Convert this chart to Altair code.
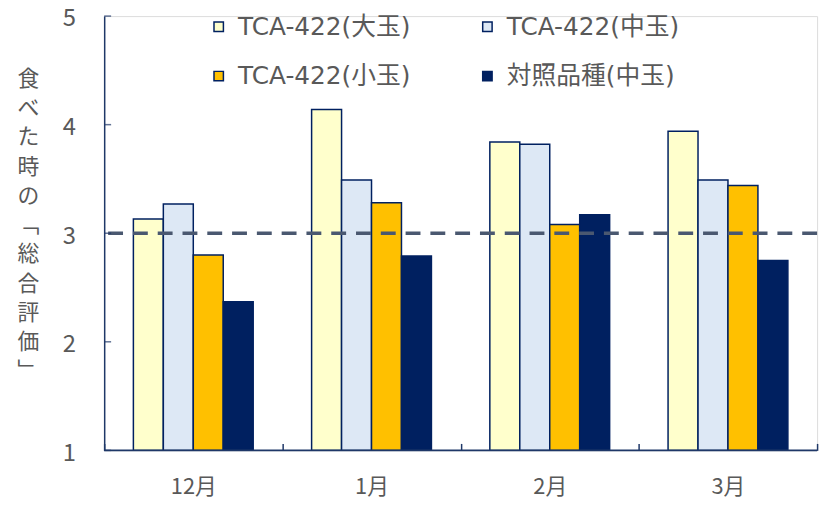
import altair as alt
import pandas as pd

months = ["12月", "1月", "2月", "3月"]
series = ["TCA-422(大玉)", "TCA-422(中玉)", "TCA-422(小玉)", "対照品種(中玉)"]
vals_large = [3.13, 4.14, 3.84, 3.94]
vals_medium = [3.27, 3.49, 3.82, 3.49]
vals_small = [2.80, 3.28, 3.08, 3.44]
vals_ctrl = [2.37, 2.79, 3.17, 2.75]
colors = ["#FFFFCC", "#DDE8F5", "#FFC000", "#002060"]
ref_value = [3]
y_ticks = [1, 2, 3, 4, 5]
y_title = ["食", "べ", "た", "時", "の", "﹁", "総", "合", "評", "価", "﹂"]

rows = []
for s, vals in zip(series, [vals_large, vals_medium, vals_small, vals_ctrl]):
    for m, v in zip(months, vals):
        rows.append({"month": m, "series": s, "value": v})
df = pd.DataFrame(rows)

W, H = 719, 438
NAVY = "#002060"
AX = "#1F3868"
TXT = "#595959"
FONT = "Noto Sans CJK JP"
LFONT = "DejaVu Sans, Noto Sans CJK JP"

bars = alt.Chart(df).mark_bar(stroke=NAVY, strokeWidth=1.5).encode(
    x=alt.X("month:N", sort=months,
            scale=alt.Scale(paddingInner=0, paddingOuter=0),
            axis=alt.Axis(title=None, domain=False, ticks=True, tickBand="extent",
                          tickSize=7, tickWidth=1.5, tickColor=AX, offset=-7,
                          labelPadding=27, labelFontSize=22, labelColor=TXT,
                          labelFont=FONT, labelAngle=0)),
    xOffset=alt.XOffset("series:N", sort=series,
                        scale=alt.Scale(paddingInner=0, paddingOuter=0.975)),
    y=alt.Y("value:Q", scale=alt.Scale(domain=[1, 5], nice=False, zero=False),
            axis=alt.Axis(values=y_ticks, format="d", title=y_title, titleAngle=0,
                          titleFontSize=22, titleLineHeight=29.5, titleColor=TXT,
                          titleFont=FONT, titleFontWeight="normal",
                          titleX=-77, titleY=63, titleAlign="center",
                          titleBaseline="middle",
                          domain=True, domainColor=AX, domainWidth=1.5,
                          ticks=False, grid=False, labelPadding=29, labelOffset=3,
                          labelFontSize=24, labelColor=TXT, labelFont=FONT)),
    y2=alt.datum(1),
    color=alt.Color("series:N", sort=series,
                    scale=alt.Scale(domain=series, range=colors),
                    legend=alt.Legend(orient="none", legendX=103, legendY=-2,
                                      direction="horizontal",
                                      columns=2, columnPadding=64, rowPadding=24,
                                      symbolType="square", symbolSize=90,
                                      symbolStrokeWidth=1.5, symbolStrokeColor=NAVY,
                                      labelFontSize=25, labelColor=TXT, labelLimit=400,
                                      labelFont=LFONT, labelOffset=7, title=None)),
)

ytick_df = pd.DataFrame({"v": y_ticks})
yticks = alt.Chart(ytick_df).mark_tick(orient="horizontal", color=AX, thickness=1.5,
                                        size=7).encode(
    y=alt.Y("v:Q"), x=alt.value(3.5))

xdomain = alt.Chart(pd.DataFrame({"v": [1]})).mark_rule(color=AX, strokeWidth=2).encode(
    y=alt.Y("v:Q"))

ref = alt.Chart(pd.DataFrame({"v": ref_value})).mark_rule(
    color="#4A5870", strokeWidth=3.5, strokeDash=[15, 10]).encode(y=alt.Y("v:Q"))

chart = alt.layer(bars, ref, yticks, xdomain).properties(
    width=W, height=H,
    padding={"left": 97, "top": 6, "right": 10, "bottom": 60},
    autosize=alt.AutoSizeParams(type="none"),
).configure_view(stroke=None).configure(font=FONT)

chart.save("out.html", embed_options={"renderer": "svg", "actions": False})
